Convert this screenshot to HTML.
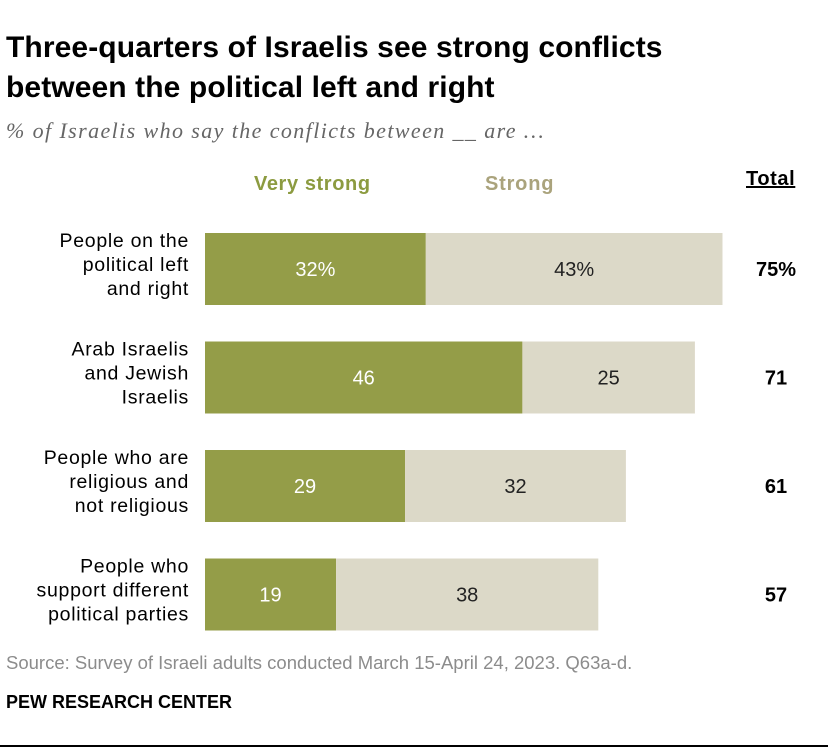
<!DOCTYPE html>
<html><head><meta charset="utf-8"><style>
body{margin:0;background:#fff;width:840px;height:752px;overflow:hidden;font-family:"Liberation Sans",sans-serif;position:relative}
.t{position:absolute;white-space:nowrap}
</style></head><body>
<div class="t" style="left:6px;top:28px;font-size:30px;font-weight:bold;line-height:40px;color:#000;letter-spacing:0.1px">Three-quarters of Israelis see strong conflicts<br>between the political left and right</div>
<div class="t" style="left:6px;top:118px;font-family:'Liberation Serif',serif;font-style:italic;font-size:22px;letter-spacing:1.4px;color:#666">% of Israelis who say the conflicts between __ are …</div>
<div class="t" style="left:254px;top:173px;font-size:20px;letter-spacing:0.6px;font-weight:bold;color:#8c9b40">Very strong</div>
<div class="t" style="left:485px;top:173px;font-size:20px;letter-spacing:0.8px;font-weight:bold;color:#aaa37c">Strong</div>
<div class="t" style="left:746px;top:168px;font-size:20px;letter-spacing:0.6px;font-weight:bold;color:#000;text-decoration:underline">Total</div>
<svg id="chart" width="840" height="752" style="position:absolute;left:0;top:0"></svg>
<div class="t" style="left:6px;top:652px;font-size:18.5px;color:#8c8c8c">Source: Survey of Israeli adults conducted March 15-April 24, 2023. Q63a-d.</div>
<div class="t" style="left:6px;top:692px;font-size:18px;font-weight:bold;color:#000">PEW RESEARCH CENTER</div>
<div style="position:absolute;left:0;top:745px;width:828px;height:2px;background:#000"></div>
<script>
const categories=[["People on the","political left","and right"],["Arab Israelis","and Jewish","Israelis"],["People who are","religious and","not religious"],["People who","support different","political parties"]];
const veryStrong=[32,46,29,19];
const strong=[43,25,32,38];
const totals=[75,71,61,57];
const vsLabels=["32%","46","29","19"];
const sLabels=["43%","25","32","38"];
const totLabels=["75%","71","61","57"];
const svg=document.getElementById('chart');
const NS='http://www.w3.org/2000/svg';
const x0=205,scale=6.9;
const xs=v=>x0+v*scale;
const rowY=i=>233+i*108.5;
const bh=72;
function mk(t,a){const e=document.createElementNS(NS,t);for(const k in a)e.setAttribute(k,a[k]);svg.appendChild(e);return e;}
categories.forEach((c,i)=>{
 const y=rowY(i);
 const r1=mk('rect',{x:xs(0),y:y,width:xs(veryStrong[i])-xs(0),height:bh,fill:'#949d48'});
 
 
 const r2=mk('rect',{x:xs(veryStrong[i]),y:y,width:xs(veryStrong[i]+strong[i])-xs(veryStrong[i]),height:bh,fill:'#dcd9c8'});
 
 
 const t1=mk('text',{x:(xs(0)+xs(veryStrong[i]))/2,y:y+bh/2+7,'text-anchor':'middle','font-size':20,fill:'#fff','font-family':'Liberation Sans, sans-serif'});
 t1.textContent=vsLabels[i];
 
 
 const t2=mk('text',{x:(xs(veryStrong[i])+xs(veryStrong[i]+strong[i]))/2,y:y+bh/2+7,'text-anchor':'middle','font-size':20,fill:'#222','font-family':'Liberation Sans, sans-serif'});
 t2.textContent=sLabels[i];
 
 
 const t3=mk('text',{x:776,y:y+bh/2+7,'text-anchor':'middle','font-size':20,'font-weight':'bold',fill:'#000','font-family':'Liberation Sans, sans-serif'});
 t3.textContent=totLabels[i];
 
 
 c.forEach((line,j)=>{
  const tl=mk('text',{x:189,y:y+14+j*24,'text-anchor':'end','font-size':19.5,'letter-spacing':0.7,fill:'#000','font-family':'Liberation Sans, sans-serif'});
  tl.textContent=line;
  
  
 });
});
</script>
</body></html>
